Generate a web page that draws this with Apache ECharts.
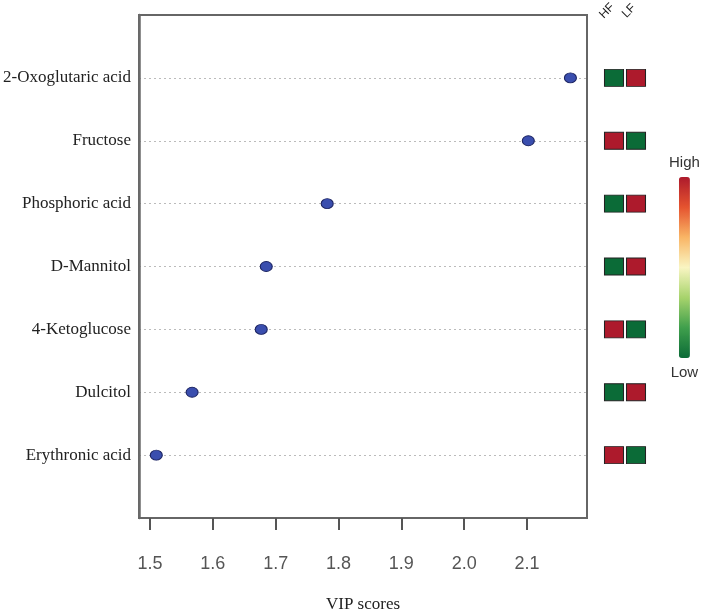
<!DOCTYPE html>
<html>
<head>
<meta charset="utf-8">
<script src="https://cdn.jsdelivr.net/npm/echarts@6/dist/echarts.min.js"></script>
<style>html,body{margin:0;padding:0;background:#fff}#c{width:702px;height:610px}</style>
</head>
<body>
<div id="c"></div>
<script>
const categories = ['2-Oxoglutaric acid','Fructose','Phosphoric acid','D-Mannitol','4-Ketoglucose','Dulcitol','Erythronic acid'];
const vipScores = [2.169, 2.102, 1.782, 1.685, 1.677, 1.567, 1.510];
const groups = ['HF','LF'];
const hfLevel = [-1, 1, -1, -1, 1, -1, 1];
const lfLevel = [1, -1, 1, 1, -1, 1, -1];
const xTicks = [1.5, 1.6, 1.7, 1.8, 1.9, 2.0, 2.1];
const legendText = ['High','Low'];

const scatterData = vipScores.map((v, i) => [v, i + 1]);
const heatData = [];
categories.forEach((c, i) => {
  heatData.push([groups[0], i + 1, hfLevel[i]]);
  heatData.push([groups[1], i + 1, lfLevel[i]]);
});

const chart = echarts.init(document.getElementById('c'));
chart.setOption({
  animation: false,
  backgroundColor: '#fff',
  grid: [
    {left: 139, right: 115, top: 15, bottom: 92, show: true, borderColor: '#666', borderWidth: 2,
     backgroundColor: 'transparent', outerBoundsMode: 'none', containLabel: false},
    {left: 603, width: 44, top: 15, bottom: 92, outerBoundsMode: 'none', containLabel: false},
    {left: 596, width: 44, top: 15, height: 1, outerBoundsMode: 'none', containLabel: false}
  ],
  xAxis: [
    {
      type: 'value', gridIndex: 0, min: 1.4825, max: 2.1954, position: 'bottom',
      name: 'VIP scores', nameLocation: 'middle', nameGap: 78,
      nameTextStyle: {fontFamily: 'Liberation Serif', fontSize: 17, color: '#222'},
      axisLine: {show: true, onZero: false, lineStyle: {color: '#666', width: 2}},
      axisTick: {show: true, length: 12, customValues: xTicks, lineStyle: {color: '#555', width: 2}},
      axisLabel: {customValues: xTicks, margin: 37, fontFamily: 'Liberation Sans', fontSize: 18, color: '#555',
        formatter: v => v.toFixed(1)},
      splitLine: {show: false}
    },
    {
      type: 'category', gridIndex: 1, data: groups, position: 'top',
      axisLine: {show: false, onZero: false}, axisTick: {show: false}, axisLabel: {show: false}
    },
    {
      type: 'category', gridIndex: 2, data: groups, position: 'top',
      axisLine: {show: false, onZero: false}, axisTick: {show: false},
      axisLabel: {interval: 0, rotate: -45, margin: 4, align: 'center', verticalAlign: 'middle',
        fontFamily: 'Liberation Sans', fontSize: 12, color: '#222'}
    }
  ],
  yAxis: [
    {
      type: 'value', gridIndex: 0, min: 0, max: 8, interval: 1, inverse: true,
      axisLine: {show: true, onZero: false, lineStyle: {color: '#6a6a6a', width: 2.5}},
      axisTick: {show: false},
      axisLabel: {margin: 8, fontFamily: 'Liberation Serif', fontSize: 17, color: '#222',
        showMinLabel: false, showMaxLabel: false,
        formatter: v => categories[v - 1] || ''},
      splitLine: {show: true, showMinLine: false, showMaxLine: false,
        lineStyle: {color: '#bbb', type: [2, 3], width: 1}}
    },
    {
      type: 'value', gridIndex: 1, min: 0, max: 8, interval: 1, inverse: true,
      axisLine: {show: false}, axisTick: {show: false}, axisLabel: {show: false}, splitLine: {show: false}
    },
    {
      type: 'value', gridIndex: 2, min: 0, max: 1,
      axisLine: {show: false}, axisTick: {show: false}, axisLabel: {show: false}, splitLine: {show: false}
    }
  ],
  visualMap: {
    type: 'continuous', seriesIndex: 1, dimension: 2, min: -1, max: 1,
    calculable: false, orient: 'vertical', left: 654, top: 140,
    itemWidth: 11, itemHeight: 181, textGap: 7,
    text: legendText,
    textStyle: {fontFamily: 'Liberation Sans', fontSize: 15, color: '#333'},
    inRange: {color: ['#0b6b37', '#3f9f4c', '#a7d36c', '#f9f5c2', '#f9b565', '#e5532f', '#ad1a2c']}
  },
  series: [
    {
      type: 'scatter', xAxisIndex: 0, yAxisIndex: 0, data: scatterData,
      symbol: 'circle', symbolSize: [12, 10], z: 5,
      itemStyle: {color: '#3a4eae', borderColor: '#1c2461', borderWidth: 1, opacity: 1}
    },
    {
      type: 'scatter', xAxisIndex: 1, yAxisIndex: 1, data: heatData,
      symbol: 'rect', symbolSize: [19, 17],
      itemStyle: {borderColor: '#222', borderWidth: 1, opacity: 1}
    }
  ]
});
</script>
</body>
</html>
